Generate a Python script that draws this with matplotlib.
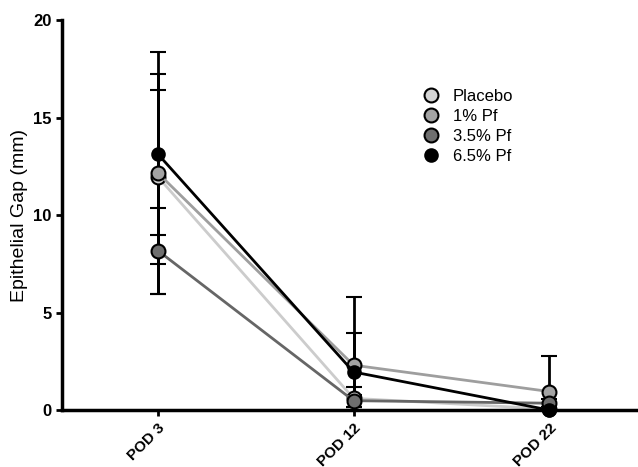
import matplotlib.pyplot as plt
from matplotlib.lines import Line2D
import numpy as np

days = ["POD 3", "POD 12", "POD 22"]
groups = ["Placebo", "1% Pf", "3.5% Pf", "6.5% Pf"]
means = {
    "Placebo": [11.95, 0.6, 0.05],
    "1% Pf": [12.15, 2.3, 0.95],
    "3.5% Pf": [8.17, 0.48, 0.35],
    "6.5% Pf": [13.12, 1.95, 0.0],
}
sds = {
    "Placebo": [4.45, 0.6, 0.1],
    "1% Pf": [6.22, 3.5, 1.8],
    "3.5% Pf": [2.2, 0.3, 0.2],
    "6.5% Pf": [4.13, 2.0, 0.0],
}
face = {"Placebo": "#d4d4d4", "1% Pf": "#a3a3a3", "3.5% Pf": "#6f6f6f", "6.5% Pf": "#000000"}
linec = {"Placebo": "#cccccc", "1% Pf": "#9e9e9e", "3.5% Pf": "#666666", "6.5% Pf": "#000000"}
msize = {"Placebo": 10, "1% Pf": 10, "3.5% Pf": 10, "6.5% Pf": 9}

plt.rcParams['font.family'] = ['Liberation Sans', 'DejaVu Sans']

fig = plt.figure(figsize=(6.38, 4.67), dpi=100)
ax = fig.add_axes([0.0972, 0.122, 0.903, 0.835])
X = np.arange(len(days))

for g in groups:
    m = np.array(means[g])
    s = np.array(sds[g])
    # bars stop at the axis, like the original
    lower = np.minimum(s, m)
    ax.errorbar(X, m, yerr=[lower, s], color=linec[g], lw=2,
                marker="o", ms=msize[g], mfc=face[g], mec="black", mew=1.5,
                ecolor="black", elinewidth=2, capsize=6, capthick=2, clip_on=False)

ax.set_xlim(-0.491, 2.455)
ax.set_ylim(0, 20)
ax.set_yticks([0, 5, 10, 15, 20])
ax.set_xticks(X)
ax.set_xticklabels(days, rotation=45, ha="right", rotation_mode="anchor", fontweight="bold", fontsize=11)
for lab in ax.get_yticklabels():
    lab.set_fontweight("bold")
    lab.set_fontsize(12)
ax.set_ylabel("Epithelial Gap (mm)", fontsize=14)
ax.spines["top"].set_visible(False)
ax.spines["right"].set_visible(False)
ax.spines["left"].set_linewidth(2.5)
ax.spines["bottom"].set_linewidth(2.5)
ax.tick_params(width=2, length=4)

handles = [Line2D([], [], ls="none", marker="o", ms=msize[g], mfc=face[g], mec="black", mew=1.5)
           for g in groups]
ax.legend(handles, groups, frameon=False, fontsize=12, loc="upper left",
          bbox_to_anchor=(0.6, 0.84), handletextpad=0.3, labelspacing=0.3, borderaxespad=0)

fig.savefig("out.png", dpi=100)
